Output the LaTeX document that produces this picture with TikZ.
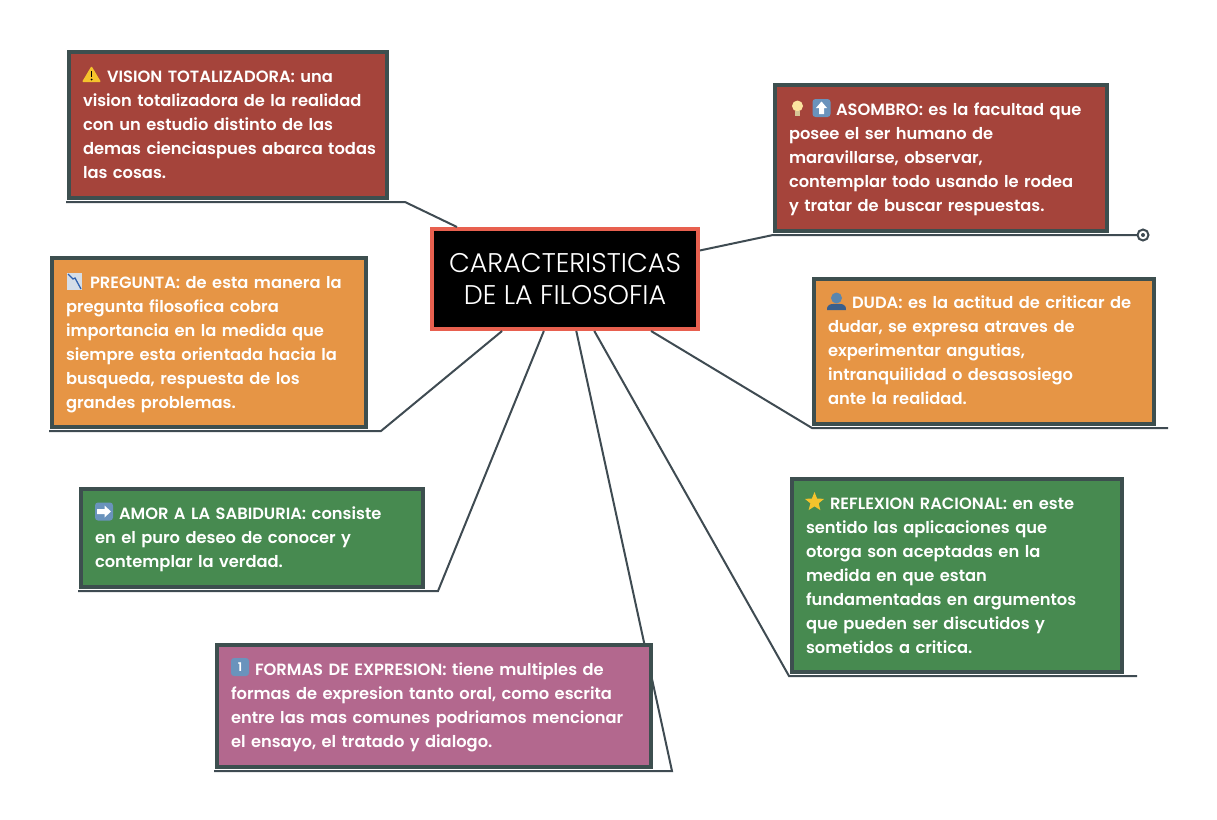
\documentclass[tikz,border=0pt]{standalone}
\usepackage{fontspec}
\usepackage{xcolor}
\usetikzlibrary{shapes.geometric}
\setmainfont{Poppins SemiBold}
\newfontfamily\titleFont{Poppins Light}
\definecolor{boxBorder}{HTML}{3D4F4F}
\definecolor{lineGray}{HTML}{3F4B52}
\definecolor{brickRed}{HTML}{A5443B}
\definecolor{softOrange}{HTML}{E69545}
\definecolor{leafGreen}{HTML}{478A50}
\definecolor{dustyPink}{HTML}{B3688E}
\definecolor{titleRed}{HTML}{E8604F}
\definecolor{keyBlue}{HTML}{6A93BC}
\definecolor{warnYellow}{HTML}{F5C32C}
\definecolor{bulbYellow}{HTML}{FBE3A0}
\definecolor{chartGray}{HTML}{D5DEE8}
\definecolor{chartBlue}{HTML}{2F62B0}
\definecolor{userBlue}{HTML}{5A86AE}
\definecolor{userDark}{HTML}{3A5F8C}
\newcommand{\iconGap}{\hspace*{24pt}}
\newcommand{\topPad}[1]{\rule{0pt}{#1}}
\tikzset{
 ideaBox/.style={draw=boxBorder, line width=4pt, text=white, anchor=north west, align=left, inner xsep=14pt, inner ysep=0pt, font=\fontsize{16.3}{24}\selectfont},
 connector/.style={draw=lineGray, line width=2pt},
 keyCap/.style={fill=keyBlue, rounded corners=3pt, minimum size=18pt, inner sep=0pt, text=white, font=\fontsize{12}{12}\selectfont}
}
\begin{document}
\begin{tikzpicture}[x=1pt,y=-1pt]
	\useasboundingbox (0,0) rectangle (1217,819);
	\node[draw=titleRed, line width=4pt, fill=black, text=white, align=center, minimum width=266pt, minimum height=100pt, inner sep=0pt, font=\titleFont\fontsize{27}{32}\selectfont] (centre) at (565,279) {CARACTERISTICAS\\DE LA FILOSOFIA};
	\coordinate (visionElbow) at (405,202);
	\coordinate (visionEnd) at (66,202);
	\coordinate (asombroElbow) at (773,235);
	\coordinate (asombroEnd) at (1143,235);
	\coordinate (preguntaElbow) at (381,431);
	\coordinate (preguntaEnd) at (49,431);
	\coordinate (dudaElbow) at (812,428);
	\coordinate (dudaEnd) at (1168,428);
	\coordinate (amorElbow) at (438,591);
	\coordinate (amorEnd) at (78,591);
	\coordinate (reflexionElbow) at (789,676);
	\coordinate (reflexionEnd) at (1137,676);
	\coordinate (formasElbow) at (672,771);
	\coordinate (formasEnd) at (214,771);
	\foreach \nm in {vision,asombro,pregunta,duda,amor,reflexion,formas}
		\draw[connector] (centre) -- (\nm Elbow) -- (\nm End);
	\node[ideaBox, fill=brickRed, minimum width=318pt, minimum height=146pt, text width=290pt] (vision) at (67,50) {\iconGap VISION TOTALIZADORA: una\\vision totalizadora de la realidad\\con un estudio distinto de las\\\mbox{demas cienciaspues abarca todas}\\las cosas.};
	\node[ideaBox, fill=brickRed, minimum width=332pt, minimum height=146pt, text width=304pt] (asombro) at (773,83) {\topPad{15pt}\hspace*{47pt}ASOMBRO: es la facultad que\\posee el ser humano de\\maravillarse, observar,\\contemplar todo usando le rodea\\y tratar de buscar respuestas.};
	\node[ideaBox, fill=softOrange, minimum width=314pt, minimum height=169pt, text width=286pt] (pregunta) at (50,256) {\topPad{17pt}\iconGap PREGUNTA: de esta manera la\\pregunta filosofica cobra\\importancia en la medida que\\siempre esta orientada hacia la\\busqueda, respuesta de los\\grandes problemas.};
	\node[ideaBox, fill=softOrange, minimum width=340pt, minimum height=145pt, text width=312pt] (duda) at (812,277) {\iconGap DUDA: es la actitud de criticar de\\dudar, se expresa atraves de\\experimentar angutias,\\intranquilidad o desasosiego\\ante la realidad.\rule[-2pt]{0pt}{1pt}};
	\node[ideaBox, fill=leafGreen, minimum width=342pt, minimum height=98pt, text width=314pt] (amor) at (79,487) {\topPad{15pt}\iconGap AMOR A LA SABIDURIA: consiste\\en el puro deseo de conocer y\\contemplar la verdad.};
	\node[ideaBox, fill=leafGreen, minimum width=330pt, minimum height=193pt, text width=302pt] (reflexion) at (790,477) {\iconGap REFLEXION RACIONAL: en este\\sentido las aplicaciones que\\otorga son aceptadas en la\\medida en que estan\\fundamentadas en argumentos\\que pueden ser discutidos y\\sometidos a critica.};
	\node[ideaBox, fill=dustyPink, minimum width=434pt, minimum height=122pt, text width=406pt] (formas) at (215,643) {\topPad{15pt}\iconGap FORMAS DE EXPRESION: tiene multiples de\\formas de expresion tanto oral, como escrita\\entre las mas comunes podriamos mencionar\\el ensayo, el tratado y dialogo.};
	\node[circle, draw=lineGray, line width=2pt, fill=white, minimum size=11pt, inner sep=0pt] (asombroDot) at (asombroEnd) {};
	\node[circle, fill=lineGray, minimum size=4pt, inner sep=0pt] (asombroPip) at (asombroEnd) {};
	% icons
	\fill[warnYellow, rounded corners=1pt] (91.5,66) -- (101,82) -- (82,82) -- cycle;
	\draw[black, line width=1.6pt] (91.5,71) -- (91.5,77);
	\fill[black] (91.5,79.5) circle (1);
	\fill[bulbYellow] (797.5,106) circle (5.5);
	\fill[bulbYellow!70!gray] (795,111) rectangle (800,116);
	\node[keyCap] (asombroKey) at (821.5,108) {};
	\fill[white] (821.5,101.5) -- (827,108) -- (824,108) -- (824,114) -- (819,114) -- (819,108) -- (816,108) -- cycle;
	\fill[chartGray] (67,273) rectangle (82,290);
	\draw[chartBlue, line width=1.3pt] (68,274) -- (73,279) -- (75,278) -- (81,289);
	\fill[userBlue] (836.5,298) circle (5.5);
	\fill[userDark] (827,310) .. controls (827,303) and (832,304) .. (836.5,304) .. controls (841,304) and (846,303) .. (846,310) -- cycle;
	\node[keyCap] (amorKey) at (104,511.5) {};
	\fill[white] (111,511.5) -- (104.5,505.5) -- (104.5,509) -- (97,509) -- (97,514) -- (104.5,514) -- (104.5,517.5) -- cycle;
	\node[star, star points=5, star point ratio=2.3, fill=warnYellow, minimum size=20pt, inner sep=0pt] (reflexionStar) at (814.5,502) {};
	\node[keyCap] (formasKey) at (240,667) {1};
\end{tikzpicture}
\end{document}
